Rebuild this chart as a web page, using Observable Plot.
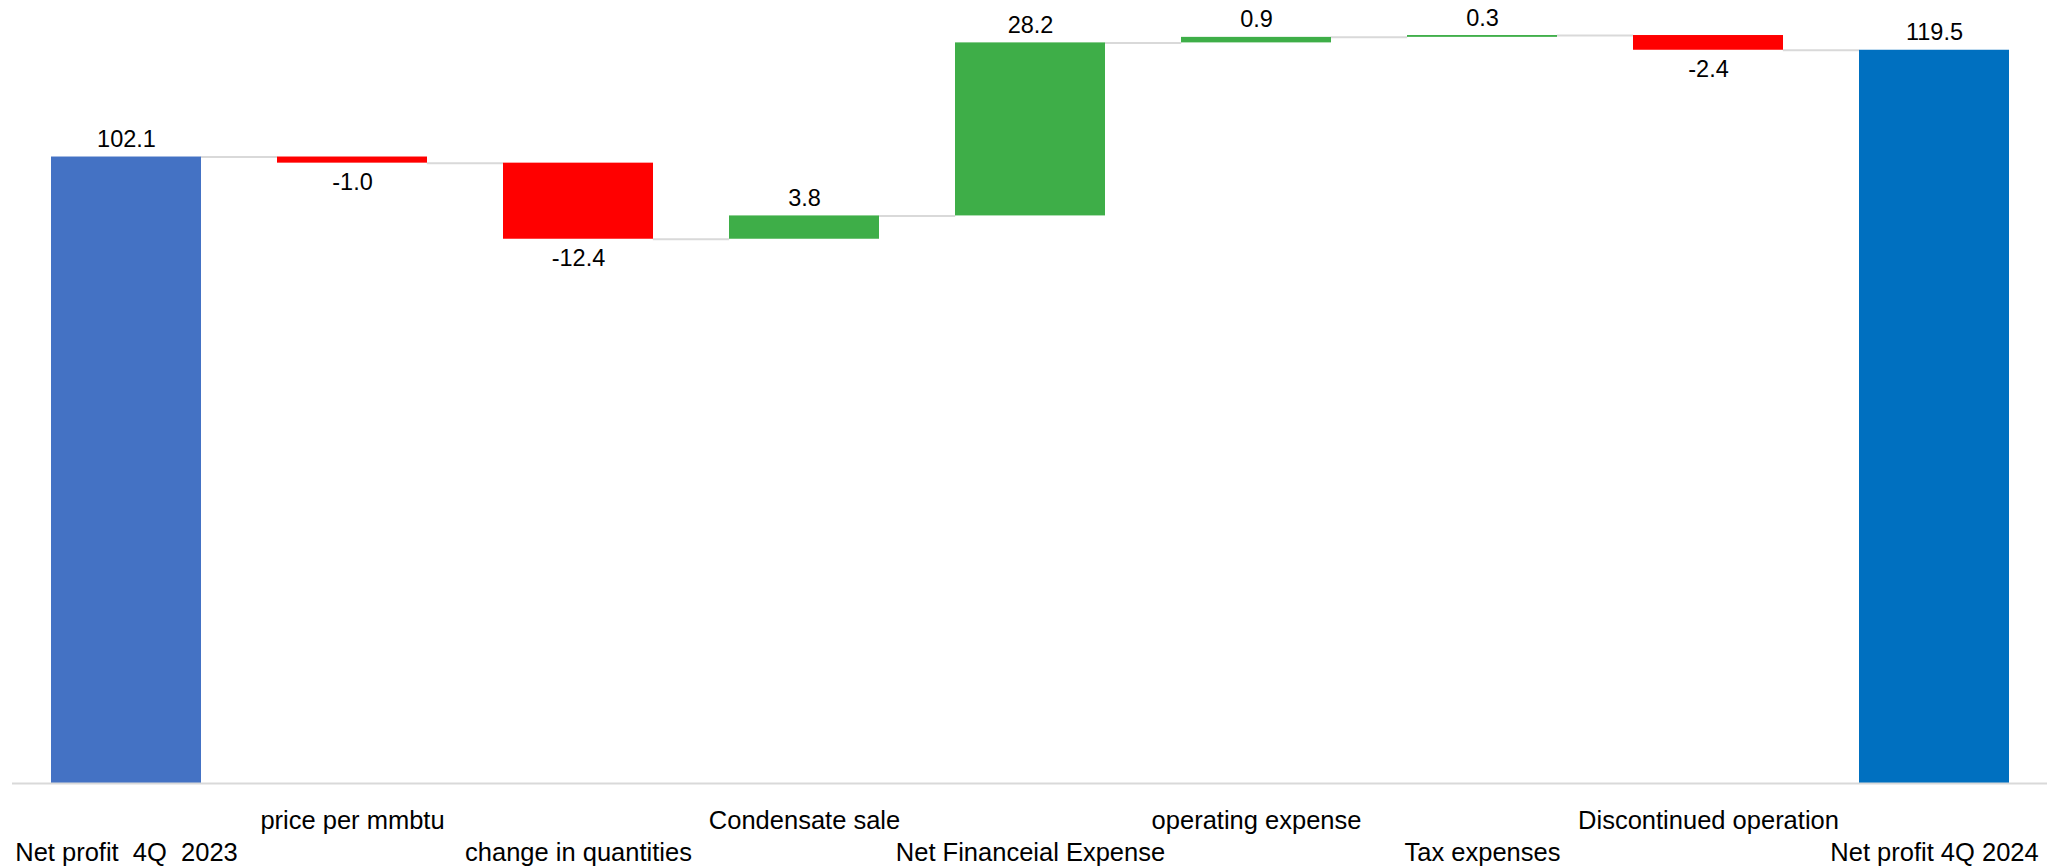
<!DOCTYPE html>
<html>
<head>
<meta charset="utf-8">
<script src="https://cdn.jsdelivr.net/npm/d3@7"></script>
<script src="https://cdn.jsdelivr.net/npm/@observablehq/plot@0.6"></script>
<style>
  html, body { margin: 0; padding: 0; background: #fff; }
  svg text { white-space: pre; }
</style>
</head>
<body>
<div id="chart"></div>
<script>
// ---- data ----
const categories = [
  "Net profit  4Q  2023",
  "price per mmbtu",
  "change in quantities",
  "Condensate sale",
  "Net Financeial Expense",
  "operating expense",
  "Tax expenses",
  "Discontinued operation",
  "Net profit 4Q 2024"
];
const values = [102.1, -1.0, -12.4, 3.8, 28.2, 0.9, 0.3, -2.4, 119.5];
const kinds = ["start", "delta", "delta", "delta", "delta", "delta", "delta", "delta", "end"];

// ---- build waterfall rows ----
let running = 0;
const rows = categories.map((c, i) => {
  const v = values[i];
  let y1, y2, fill;
  if (kinds[i] === "start") { y1 = 0; y2 = v; running = v; fill = "#4472C4"; }
  else if (kinds[i] === "end") { y1 = 0; y2 = v; running = v; fill = "#0070C0"; }
  else { y1 = running; y2 = running + v; running = y2; fill = v >= 0 ? "#3EAE48" : "#FF0000"; }
  return {cat: c, value: v, y1, y2, fill, level: running, top: Math.max(y1, y2), bottom: Math.min(y1, y2)};
});
const connectors = rows.slice(0, -1).map((r, i) => ({a: r.cat, b: rows[i + 1].cat, y: r.level}));

const W = 2051, H = 868;
const mL = 12, mR = 4, mT = 16, mB = 85;
const pIn = 0.337, pOut = 0.17;
const bw = d3.scaleBand().domain(categories).range([mL, W - mR]).paddingInner(pIn).paddingOuter(pOut).bandwidth();

const upper = categories.filter((d, i) => i % 2 === 1);
const lower = categories.filter((d, i) => i % 2 === 0);

const chart = Plot.plot({
  width: W,
  height: H,
  marginLeft: mL,
  marginRight: mR,
  marginTop: mT,
  marginBottom: mB,
  style: {fontFamily: "'Liberation Sans', Arial, sans-serif", color: "#000", background: "#fff", overflow: "visible"},
  x: {domain: categories, paddingInner: pIn, paddingOuter: pOut, axis: null},
  y: {domain: [0, 125], axis: null},
  marks: [
    Plot.ruleY(connectors, {x1: "a", x2: "b", y: "y", insetLeft: bw, insetRight: bw, stroke: "#D9D9D9", strokeWidth: 2}),
    Plot.barY(rows, {x: "cat", y1: "y1", y2: "y2", fill: "fill"}),
    Plot.ruleY([0], {stroke: "#D9D9D9", strokeWidth: 2}),
    Plot.text(rows.filter(r => r.value >= 0), {
      x: "cat", y: "top", text: d => d.value.toFixed(1),
      lineAnchor: "bottom", dy: -10, fontSize: 23.5, fill: "#000"
    }),
    Plot.text(rows.filter(r => r.value < 0), {
      x: "cat", y: "bottom", text: d => d.value.toFixed(1),
      lineAnchor: "top", dy: 10, fontSize: 23.5, fill: "#000"
    }),
    Plot.axisX(upper, {tickSize: 0, tickPadding: 27, fontSize: 25.5, label: null}),
    Plot.axisX(lower, {tickSize: 0, tickPadding: 59, fontSize: 25.5, label: null})
  ]
});
document.getElementById("chart").appendChild(chart);
</script>
</body>
</html>
